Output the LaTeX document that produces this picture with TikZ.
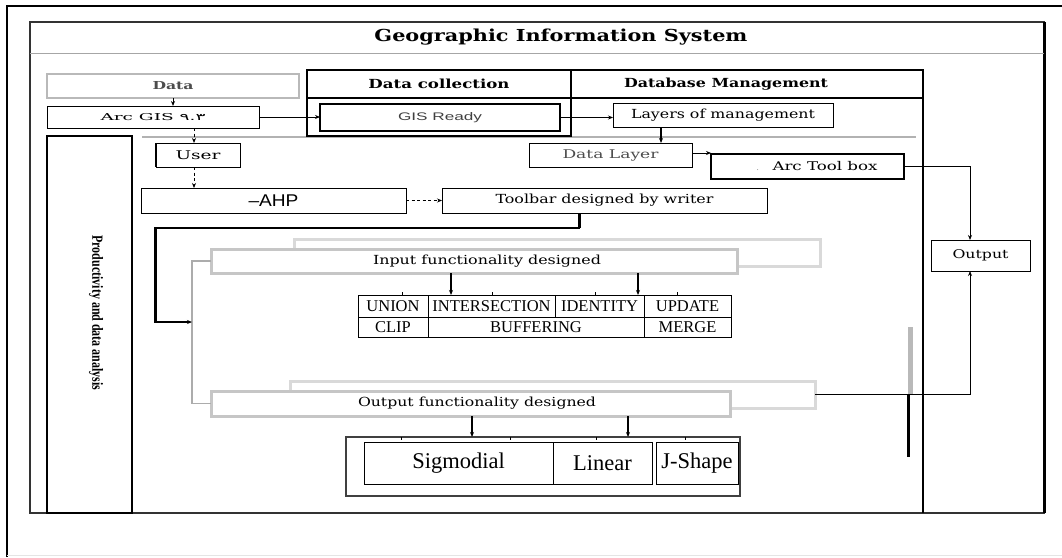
\documentclass[tikz,border=0pt]{standalone}
\usepackage{fontspec}
\usepackage{graphicx}
\setmainfont{Liberation Serif}
\newfontfamily\dvs{DejaVu Serif}
\newfontfamily\lsans{Liberation Sans}
\newfontfamily\arabicfont[Script=Arabic]{DejaVu Sans}
\usetikzlibrary{arrows.meta,calc}
\newcommand\fw[2]{\resizebox{#1}{\height}{#2}}
\newcommand\fsz[1]{\fontsize{#1}{#1}\selectfont}
\begin{document}
\begin{tikzpicture}[x=1pt,y=-1pt,
  bx/.style={draw, line width=1pt, inner sep=0pt, outer sep=0pt, fill=white},
  hd/.style={draw, line width=1.3pt, inner sep=0pt, outer sep=0pt},
  txt/.style={inner sep=0pt, outer sep=0pt},
  cell/.style={draw, line width=0.9pt, inner sep=0pt, outer sep=0pt, font={\fsz{16.5}}},
  scell/.style={draw, line width=0.9pt, inner sep=0pt, outer sep=0pt, font={\fsz{22.5}}},
  arr/.style={line width=1pt, -{Stealth[length=5pt,width=4pt]}},
  darr/.style={arr, dash pattern=on 3pt off 2.5pt},
  shad/.style={draw=gray!30, line width=3pt, inner sep=0pt, outer sep=0pt, fill=white},
  fmain/.style={draw=gray!45, line width=3pt, inner sep=0pt, outer sep=0pt, fill=white},
]
\useasboundingbox (0,0) rectangle (1062,557);
% outer frame
\draw[line width=2.5pt] (7,557) -- (7,6) -- (1062,6);
\draw[gray!20, line width=1pt] (7,555) -- (1062,555);
% GIS frame
\draw[line width=1.2pt, black!80] (30,22) rectangle (1044,513);
\draw[line width=3pt] (1044,22) -- (1044,513);
\draw[gray!70, line width=1pt] (30,53) -- (1044,53);
\node[txt] (title) at (561,37) {\dvs\bfseries\fsz{16.5}\fw{373pt}{Geographic Information System}};

% left panel
\draw[line width=1.2pt] (47,136) rectangle (132,513);
\node[txt, rotate=-90] (prod) at (96,313) {\bfseries\fsz{15.5}\fw{155pt}{Productivity and data analysis}};

% long grey line
\draw[gray!60, line width=1.2pt] (142,137) -- (916,137);

% data collection / database management panels
\draw[line width=1.3pt] (307,70) rectangle (571,136);
\node[hd, minimum width=264pt, minimum height=28pt] (dchead) at (439,84) {\dvs\bfseries\fsz{12.5}\fw{141pt}{Data collection}};
\node[hd, minimum width=352pt, minimum height=28pt] (dbhead) at (747,84) {\makebox[352pt][l]{\hspace*{53pt}\dvs\bfseries\fsz{12.5}\fw{204pt}{Database Management}}};
\draw[line width=2.5pt] (923,70) -- (923,513);

% top row boxes
\node[bx, draw=gray!55, line width=1.3pt, minimum width=252pt, minimum height=24pt] (data) at (173,86) {\dvs\bfseries\fsz{11}\color{black!70}\fw{41pt}{Data}};
\node[bx, minimum width=212pt, minimum height=22pt] (arcgis) at (153,117) {\dvs\fsz{9.5}\fw{105pt}{Arc GIS {\arabicfont ٩.٣}}};
\node[bx, line width=1.6pt, minimum width=240pt, minimum height=27pt] (gisready) at (440,117.5) {\lsans\fsz{11}\color{black!75}\fw{84pt}{GIS Ready}};
\node[bx, minimum width=220pt, minimum height=24pt] (layers) at (723,115) {\dvs\fsz{12.5}\fw{184pt}{Layers of management}};
\node[bx, minimum width=84pt, minimum height=24pt] (user) at (198,155) {\dvs\fsz{12}\fw{45pt}{User}};
\draw[line width=2.5pt] (user.north west) -- (user.south west);
\node[bx, minimum width=163pt, minimum height=24pt] (datalayer) at (610.5,155) {\dvs\fsz{12}\color{black!70}\fw{96pt}{Data Layer}};
\node[bx, line width=2pt, minimum width=193pt, minimum height=25pt] (arctool) at (807.5,166.5) {\makebox[193pt][l]{\hspace*{46pt}{\fsz{6}.}\hspace*{14pt}\dvs\fsz{12}\fw{105pt}{Arc Tool box}}};
\node[bx, minimum width=99pt, minimum height=31pt] (output) at (980.5,255.5) {\dvs\fsz{12}\fw{56pt}{Output}};

\node[bx, minimum width=265pt, minimum height=25pt] (ahp) at (273.5,200.5) {\lsans\fsz{17}\fw{50pt}{–AHP}};
\node[bx, minimum width=325pt, minimum height=25pt] (toolbar) at (604.5,200.5) {\dvs\fsz{12.5}\fw{218pt}{Toolbar designed by writer}};

% functionality boxes
\node[shad, minimum width=526pt, minimum height=27pt] (ishadow) at (557,252.5) {};
\node[fmain, minimum width=526pt, minimum height=24pt] (imain) at (474,261) {\makebox[526pt][l]{\hspace*{162pt}\dvs\fsz{12.5}\fw{228pt}{Input functionality designed}}};
\node[shad, minimum width=525pt, minimum height=27pt] (oshadow) at (552.5,394.5) {};
\node[fmain, minimum width=519pt, minimum height=25pt] (omain) at (470.5,403.5) {\makebox[519pt][l]{\hspace*{147pt}\dvs\fsz{12.5}\fw{238pt}{Output functionality designed}}};

% operations table
\node[cell, minimum width=70pt, minimum height=22pt] (t11) at (393,306) {UNION};
\node[cell, minimum width=127pt, minimum height=22pt] (t12) at (491.5,306) {INTERSECTION};
\node[cell, minimum width=89pt, minimum height=22pt] (t13) at (599.5,306) {IDENTITY};
\node[cell, minimum width=87pt, minimum height=22pt] (t14) at (687.5,306) {UPDATE};
\node[cell, minimum width=70pt, minimum height=20pt] (t21) at (393,327) {CLIP};
\node[cell, minimum width=216pt, minimum height=20pt] (t22) at (536,327) {BUFFERING};
\node[cell, minimum width=87pt, minimum height=20pt] (t23) at (687.5,327) {MERGE};
\foreach \x in {402,492,595,677} \draw[line width=0.8pt] (\x,292) -- (\x,295);

% curve table
\node[draw=black!75, line width=1.1pt, inner sep=0pt, outer sep=0pt, minimum width=394pt, minimum height=59pt] (sigouter) at (543,466.5) {};
\node[scell, minimum width=189pt, minimum height=42pt] (s1) at (458.5,463) {Sigmodial};
\node[scell, minimum width=99pt, minimum height=42pt] (s2) at (602.5,463) {Linear};
\node[scell, minimum width=82pt, minimum height=42pt] (s3) at (697,463) {J-Shape};
\foreach \x in {401,510,596,685} \draw[line width=0.8pt] (\x,437) -- (\x,440);

% right bars
\draw[gray!55, line width=5pt] (910,327) -- (910,394);
\draw[line width=3pt] (908,394) -- (908,457);

% connectors
\draw[arr] (data.south) -- (data.south |- arcgis.north);
\draw[arr] (arcgis.east) -- (arcgis.east -| gisready.west);
\draw[darr] ([xshift=-4pt]user.north |- arcgis.south) -- ([xshift=-4pt]user.north);
\draw[darr] ([xshift=-4pt]user.south) -- ([xshift=-4pt]user.south |- ahp.north);
\draw[darr] (ahp.east) -- (ahp.east -| toolbar.west);
\draw[arr] (gisready.east) -- (gisready.east -| layers.west);
\draw[arr, line width=1.4pt] ([xshift=-62pt]layers.south) -- ([xshift=-62pt]layers.south |- datalayer.north);
\draw[arr] ([yshift=2pt]datalayer.east) -- ([yshift=2pt]datalayer.east -| arctool.west);
\draw[arr] (arctool.east) -| ([xshift=-10.5pt]output.north);
\draw[arr] (oshadow.east) -| ([xshift=-10.5pt]output.south);

\coordinate (k1) at (155,228);
\coordinate (bk) at (192,322);
\draw[gray!65, line width=1.5pt] (imain.west) -- (imain.west -| bk) -- (omain.west -| bk) -- (omain.west);
\draw[line width=3pt] ([xshift=-25.5pt]toolbar.south) -- ([xshift=-25.5pt]toolbar.south |- k1);
\draw[line width=3pt] (k1) -- (k1 |- bk);
\draw[arr, line width=1.2pt] ([xshift=-25.5pt]toolbar.south) |- (k1) |- (bk);

\draw[arr, line width=1.3pt] ([xshift=-23pt]imain.south) -- ([xshift=-23pt]imain.south |- t12.north);
\draw[arr, line width=1.3pt] ([xshift=164pt]imain.south) -- ([xshift=164pt]imain.south |- t13.north);
\draw[arr, line width=1.3pt] ([xshift=1.5pt]omain.south) -- ([xshift=1.5pt]omain.south |- sigouter.north);
\draw[arr, line width=1.3pt] ([xshift=157.5pt]omain.south) -- ([xshift=157.5pt]omain.south |- sigouter.north);
\end{tikzpicture}
\end{document}
